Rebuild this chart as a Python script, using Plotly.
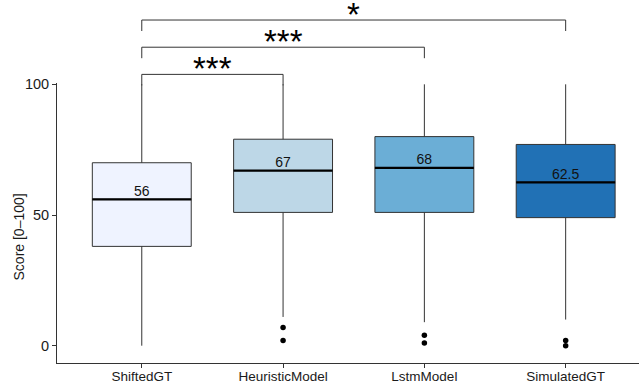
import plotly.graph_objects as go

categories = ["ShiftedGT", "HeuristicModel", "LstmModel", "SimulatedGT"]
q1 = [38, 51, 51, 49]
medians = [56, 67, 68, 62.5]
q3 = [70, 79, 80, 77]
lower_whisker = [0, 11, 9, 10]
upper_whisker = [100, 100, 100, 100]
outliers = [[], [7, 2], [4, 1], [2, 0]]
fill_colors = ["#EFF3FF", "#BDD7E7", "#6BAED6", "#2171B5"]
median_labels = ["56", "67", "68", "62.5"]
y_title = "Score [0–100]"

comparisons = [(1, 2), (1, 3), (1, 4)]
comparison_labels = ["***", "***", "*"]
bracket_levels = [103.8, 114.2, 124.6]
tip = 4.2

positions = [1, 2, 3, 4]
box_w = 0.7

# layout geometry
W, H = 639, 386
ml, mr, mt, mb = 57, 0, 0, 23
y_lo, y_hi = -6.62, 100.5
dom_top = 0.7713
y2_hi = y_lo + (y_hi - y_lo) / dom_top
x_lo, x_hi = 0.4, 4.519

fig = go.Figure()

for i, p in enumerate(positions):
    fig.add_trace(go.Box(
        x=[p], q1=[q1[i]], median=[medians[i]], q3=[q3[i]],
        lowerfence=[lower_whisker[i]], upperfence=[upper_whisker[i]],
        width=box_w, whiskerwidth=0, boxpoints=False,
        fillcolor=fill_colors[i], line=dict(color="#333333", width=1),
        showlegend=False, hoverinfo="skip",
    ))
    fig.add_trace(go.Scatter(
        x=[p - box_w / 2, p + box_w / 2], y=[medians[i], medians[i]],
        mode="lines", line=dict(color="black", width=2.3),
        showlegend=False, hoverinfo="skip",
    ))
    if outliers[i]:
        fig.add_trace(go.Scatter(
            x=[p] * len(outliers[i]), y=outliers[i], mode="markers",
            marker=dict(color="black", size=5.5), showlegend=False,
            hoverinfo="skip",
        ))

fig.add_trace(go.Scatter(
    x=positions, y=medians, mode="text", text=median_labels,
    textposition="top center",
    textfont=dict(family="Liberation Sans, Arial, sans-serif", size=14, color="#111"),
    showlegend=False, hoverinfo="skip",
))

for (a, b), lab, lvl in zip(comparisons, comparison_labels, bracket_levels):
    fig.add_trace(go.Scatter(
        x=[a, a, b, b], y=[lvl - tip, lvl, lvl, lvl - tip],
        mode="lines", line=dict(color="#333333", width=1),
        xaxis="x2", yaxis="y2", showlegend=False, hoverinfo="skip",
    ))
    fig.add_annotation(
        x=(a + b) / 2, y=lvl, xref="x2", yref="y2", text=lab,
        showarrow=False, yanchor="bottom", yshift=-15,
        font=dict(family="Liberation Sans, Arial, sans-serif", size=33,
                  color="black"),
    )

# y-axis title
fig.add_annotation(
    x=-0.0653, y=0.3485, xref="paper", yref="paper", text=y_title,
    textangle=-90, showarrow=False, xanchor="center", yanchor="middle",
    font=dict(family="Liberation Sans, Arial, sans-serif", size=14, color="#1a1a1a"),
)

axis_common = dict(showgrid=False, zeroline=False, automargin=False)
fig.update_layout(
    template="none",
    width=W, height=H,
    margin=dict(l=ml, r=mr, t=mt, b=mb, pad=0, autoexpand=False),
    paper_bgcolor="white", plot_bgcolor="rgba(0,0,0,0)",
    font=dict(family="Liberation Sans, Arial, sans-serif", color="#1a1a1a"),
    xaxis=dict(range=[x_lo, x_hi], tickvals=positions, ticktext=categories,
               ticks="outside", ticklen=4, tickcolor="#333", showline=True,
               linecolor="#333", linewidth=1, tickfont=dict(size=13.5, color="#1a1a1a"),
               ticklabelstandoff=-3,
               anchor="y", **axis_common),
    yaxis=dict(domain=[0, dom_top], range=[y_lo, y_hi], tickvals=[0, 50, 100],
               ticks="outside", ticklen=4, tickcolor="#333", showline=True,
               linecolor="#333", linewidth=1, tickfont=dict(size=14.5, color="#1a1a1a"),
               anchor="x", **axis_common),
    xaxis2=dict(range=[x_lo, x_hi], domain=[0, 1], visible=False, anchor="y2", **axis_common),
    yaxis2=dict(range=[y_lo, y2_hi], domain=[0, 1], visible=False, anchor="x2", **axis_common),
)

fig.write_html("out.html", config={"displayModeBar": False},
               post_script="document.body.style.margin='0';")
